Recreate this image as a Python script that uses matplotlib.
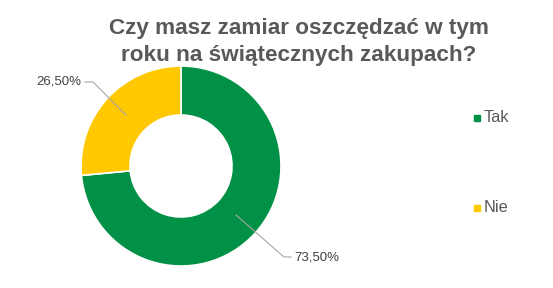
import matplotlib
matplotlib.use("Agg")
import matplotlib.pyplot as plt
import numpy as np

plt.rcParams['font.family'] = ['Liberation Sans', 'DejaVu Sans']

title = "Czy masz zamiar oszczędzać w tym\nroku na świątecznych zakupach?"
categories = ["Tak", "Nie"]
values = [73.5, 26.5]
labels = ["73,50%", "26,50%"]
colors = ["#009046", "#FFC800"]

fig = plt.figure(figsize=(5.53, 2.88), dpi=100)
W, H = 553, 288

# donut axes: center ~ (181,166) px, radius ~100 px
ax = fig.add_axes([81 / W, (H - 266) / H, 200 / W, 200 / H])
wedges, _ = ax.pie(values, colors=colors, startangle=90, counterclock=False,
                   radius=1.0, wedgeprops=dict(width=0.49, edgecolor='white', linewidth=1.2))
ax.set_xlim(-1, 1)
ax.set_ylim(-1, 1)
ax.set_aspect('equal')
ax.axis('off')

def fx(x):
    return x / W

def fy(y):
    return (H - y) / H

line_kw = dict(color='#A6A6A6', linewidth=0.8, transform=fig.transFigure)
# 73,50%
fig.add_artist(plt.Line2D([fx(236), fx(284), fx(291)], [fy(215), fy(257), fy(257)], **line_kw))
fig.text(fx(294), fy(257), labels[0], ha='left', va='center', fontsize=9.5, color='#404040')
# 26,50%
fig.add_artist(plt.Line2D([fx(126), fx(93), fx(85)], [fy(115), fy(82), fy(82)], **line_kw))
fig.text(fx(81), fy(82), labels[1], ha='right', va='center', fontsize=9.5, color='#404040')

# title
fig.text(fx(299), fy(42), title, ha='center', va='center', fontsize=16.2,
         fontweight='bold', color='#595959', linespacing=1.33)

# legend
for cat, col, y in zip(categories, colors, [118, 208]):
    fig.add_artist(plt.Rectangle((fx(474), fy(y + 3)), 6 / W, 6 / H, color=col,
                                 transform=fig.transFigure))
    fig.text(fx(484), fy(y), cat, ha='left', va='center', fontsize=11.8, color='#595959')

fig.savefig("out.png", dpi=100, facecolor='white')
